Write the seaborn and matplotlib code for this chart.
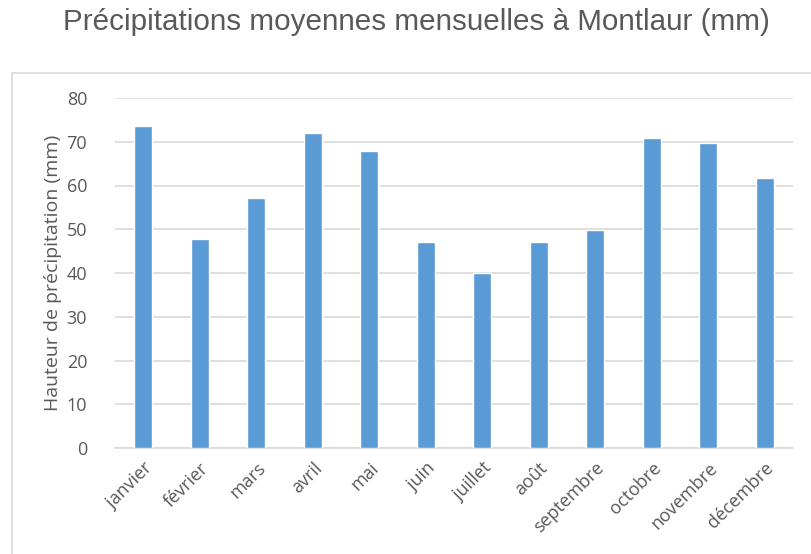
import matplotlib
matplotlib.use("Agg")
import matplotlib.pyplot as plt
import matplotlib.patches as mpatches
import seaborn as sns
import pandas as pd

# ── Data ──────────────────────────────────────────────────────
MONTHS = ["janvier", "février", "mars", "avril", "mai", "juin",
          "juillet", "août", "septembre", "octobre", "novembre", "décembre"]
PRECIP_MM = [73.6, 47.8, 57.1, 72.1, 67.9, 47.0,
             40.0, 47.0, 49.8, 70.9, 69.8, 61.7]
Y_TICKS = [0, 10, 20, 30, 40, 50, 60, 70, 80]

TITLE = "Précipitations moyennes mensuelles à Montlaur (mm)"
Y_LABEL = "Hauteur de précipitation (mm)"

BAR_COLOR = "#5B9BD5"
GRID_COLOR = "#D9D9D9"
TEXT_COLOR = "#595959"

sns.set_theme(style="white")
plt.rcParams["font.family"] = ["Open Sans", "DejaVu Sans"]

df = pd.DataFrame({"mois": MONTHS, "precip": PRECIP_MM})

fig = plt.figure(figsize=(8.11, 5.54), dpi=100)
ax = fig.add_axes([115 / 811, 1 - 448 / 554, (793 - 115) / 811, (448 - 98) / 554])

sns.barplot(data=df, x="mois", y="precip", color=BAR_COLOR, saturation=1,
            width=0.31, ax=ax, zorder=3)

ax.set_ylim(0, 80)
ax.set_yticks(Y_TICKS)
ax.set_xlim(-0.5, len(MONTHS) - 0.5)
ax.yaxis.grid(True, color=GRID_COLOR, linewidth=1.2, zorder=0)
ax.set_axisbelow(True)
for side in ["top", "right", "left"]:
    ax.spines[side].set_visible(False)
ax.spines["bottom"].set_color(GRID_COLOR)
ax.spines["bottom"].set_linewidth(1.2)

ax.tick_params(axis="y", length=0, labelsize=13, labelcolor=TEXT_COLOR, pad=20)
ax.tick_params(axis="x", length=0, labelsize=13, labelcolor=TEXT_COLOR, pad=8)
plt.setp(ax.get_xticklabels(), rotation=45, ha="right", rotation_mode="anchor")
ax.set_xlabel("")
ax.set_ylabel(Y_LABEL, fontsize=14, color=TEXT_COLOR, labelpad=3)

# chart area border
fig.patches.append(mpatches.Rectangle((12 / 811, -0.05), 1.0, 1 - 73 / 554 + 0.05,
                                      transform=fig.transFigure, fill=False,
                                      edgecolor=GRID_COLOR, linewidth=1.2))

fig.text(416 / 811, 1 - 22 / 554, TITLE, ha="center", va="center",
         fontsize=21.3, color=TEXT_COLOR, family=["Liberation Sans", "DejaVu Sans"])

plt.savefig("out.png", dpi=100)
plt.close()
